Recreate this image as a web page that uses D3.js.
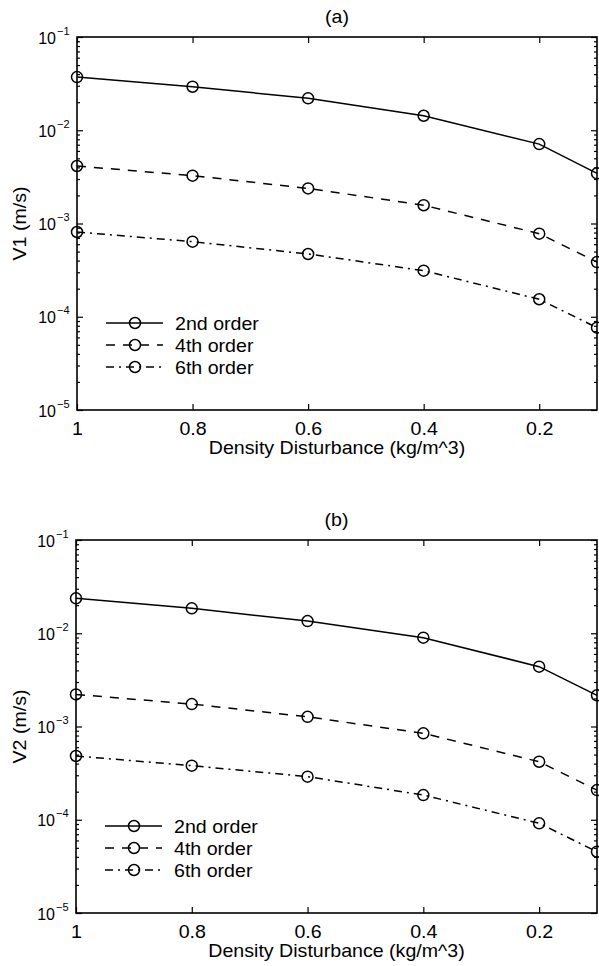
<!DOCTYPE html>
<html>
<head>
<meta charset="utf-8">
<script src="https://cdn.jsdelivr.net/npm/d3@7"></script>
<style>
  body { margin: 0; background: #fff; }
  svg { display: block; font-family: "Liberation Sans", Arial, Helvetica, sans-serif; }
</style>
</head>
<body>
<svg id="chart" width="599" height="966"></svg>
<script>
// x values (density disturbance) and tick labels
const xVals = [1, 0.8, 0.6, 0.4, 0.2, 0.1]
const xTicks = [1, 0.8, 0.6, 0.4, 0.2]
const decades = [1e-5, 1e-4, 1e-3, 1e-2, 1e-1]
const seriesNames = ['2nd order', '4th order', '6th order']

// panel (a) : V1
const v1Second = [0.0372, 0.0293, 0.0220, 0.0143, 0.0071, 0.00345]
const v1Fourth = [0.00414, 0.00326, 0.00238, 0.00157, 0.000778, 0.000386]
const v1Sixth  = [0.000811, 0.000638, 0.000471, 0.000312, 0.000154, 0.0000764]

// panel (b) : V2
const v2Second = [0.0237, 0.0185, 0.0135, 0.00896, 0.00438, 0.00216]
const v2Fourth = [0.00221, 0.00174, 0.00127, 0.000845, 0.000419, 0.000208]
const v2Sixth  = [0.000483, 0.000380, 0.000290, 0.000184, 0.0000916, 0.0000454]

const dashes = [null, '9,8', '8,5,2,5']
const FS = 18.5
const SX = 1.06

const svg = d3.select('#chart')

let drawPanel = (opt) => {
  const {left, right, top, bottom, title, ylabel, series} = opt
  const x = d3.scaleLinear().domain([1, 0.1]).range([left, right])
  const y = d3.scaleLog().domain([1e-5, 1e-1]).range([bottom, top])
  const g = svg.append('g')

  // minor ticks for the log axis
  let minor = []
  decades.slice(0, -1).forEach(d => {
    for (let k = 2; k <= 9; k++) minor.push(d * k)
  })

  // bottom
  const bx = g.append('g').attr('transform', `translate(0,${bottom})`)
    .call(d3.axisBottom(x).tickValues(xTicks).tickSizeInner(-6).tickSizeOuter(0).tickPadding(12)
      .tickFormat(d => d3.format('~g')(d)))
  bx.selectAll('text').attr('font-size', FS).attr('fill', '#000')
    .attr('font-family', 'Liberation Sans, Arial, sans-serif')
    .attr('transform', `scale(${SX},1)`)
  // top
  g.append('g').attr('transform', `translate(0,${top})`)
    .call(d3.axisTop(x).tickValues(xTicks).tickSizeInner(-6).tickSizeOuter(0).tickFormat(''))

  // left major + labels
  const ly = g.append('g').attr('transform', `translate(${left},0)`)
    .call(d3.axisLeft(y).tickValues(decades).tickSizeInner(-6).tickSizeOuter(0).tickFormat(''))
  ly.selectAll('.tick text').remove()
  ly.selectAll('.tick').append('text')
    .attr('x', -21).attr('dy', 6)
    .attr('text-anchor', 'end')
    .attr('font-size', 16).attr('fill', '#000')
    .attr('font-family', 'Liberation Sans, Arial, sans-serif')
    .text('10')
  ly.selectAll('.tick').append('text')
    .attr('x', -20).attr('dy', -3)
    .attr('text-anchor', 'start')
    .attr('font-size', 11).attr('fill', '#000')
    .attr('font-family', 'Liberation Sans, Arial, sans-serif')
    .text(d => '\u2212' + Math.round(-Math.log10(d)))
  g.append('g').attr('transform', `translate(${left},0)`)
    .call(d3.axisLeft(y).tickValues(minor).tickSizeInner(-3).tickSizeOuter(0).tickFormat(''))

  // right
  g.append('g').attr('transform', `translate(${right},0)`)
    .call(d3.axisRight(y).tickValues(decades).tickSizeInner(-6).tickSizeOuter(0).tickFormat(''))
  g.append('g').attr('transform', `translate(${right},0)`)
    .call(d3.axisRight(y).tickValues(minor).tickSizeInner(-3).tickSizeOuter(0).tickFormat(''))

  g.selectAll('.domain').remove()
  g.selectAll('.tick line').attr('stroke', '#000').attr('stroke-width', 1.2)

  // box
  g.append('rect')
    .attr('x', left).attr('y', top)
    .attr('width', right - left).attr('height', bottom - top)
    .attr('fill', 'none').attr('stroke', '#000').attr('stroke-width', 1.6)

  // lines + markers
  const line = d3.line().x(d => x(d[0])).y(d => y(d[1]))
  series.forEach((vals, i) => {
    const pts = xVals.map((xv, j) => [xv, vals[j]])
    g.append('path')
      .attr('d', line(pts))
      .attr('fill', 'none').attr('stroke', '#000').attr('stroke-width', 1.5)
      .attr('stroke-dasharray', dashes[i])
    g.selectAll(null).data(pts).enter().append('circle')
      .attr('cx', d => x(d[0])).attr('cy', d => y(d[1]))
      .attr('r', 5.5)
      .attr('fill', 'none').attr('stroke', '#000').attr('stroke-width', 1.5)
  })

  // legend
  const lg = g.append('g')
  seriesNames.forEach((name, i) => {
    const ry = top + 286 + i * 22
    lg.append('line')
      .attr('x1', left + 29).attr('x2', left + 86)
      .attr('y1', ry).attr('y2', ry)
      .attr('stroke', '#000').attr('stroke-width', 1.5)
      .attr('stroke-dasharray', dashes[i])
    lg.append('circle')
      .attr('cx', left + 58).attr('cy', ry).attr('r', 5.5)
      .attr('fill', 'none').attr('stroke', '#000').attr('stroke-width', 1.5)
    lg.append('text')
      .attr('transform', `translate(${left + 98},${ry + 6.5}) scale(${SX},1)`)
      .attr('font-size', FS)
      .text(name)
  })

  // titles
  const cx = (left + right) / 2
  g.append('text')
    .attr('transform', `translate(${cx},${top - 14.3}) scale(${SX},1)`)
    .attr('text-anchor', 'middle').attr('font-size', FS)
    .text(title)
  g.append('text')
    .attr('transform', `translate(${cx},${bottom + 44}) scale(${SX},1)`)
    .attr('text-anchor', 'middle').attr('font-size', FS)
    .text('Density Disturbance (kg/m^3)')
  g.append('text')
    .attr('transform', `translate(26,${(top + bottom) / 2}) rotate(-90) scale(${SX},1)`)
    .attr('text-anchor', 'middle').attr('font-size', FS)
    .text(ylabel)
}

drawPanel({left: 77, right: 597, top: 37, bottom: 410, title: '(a)', ylabel: 'V1 (m/s)',
  series: [v1Second, v1Fourth, v1Sixth]})
drawPanel({left: 76, right: 597, top: 540, bottom: 913, title: '(b)', ylabel: 'V2 (m/s)',
  series: [v2Second, v2Fourth, v2Sixth]})
</script>
</body>
</html>
